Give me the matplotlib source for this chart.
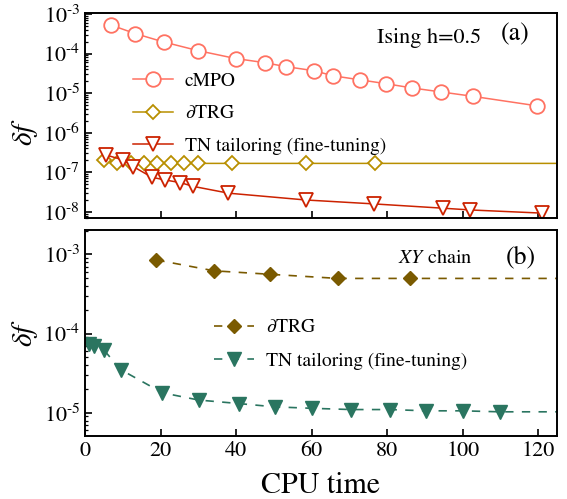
import matplotlib
matplotlib.use("Agg")
import matplotlib.pyplot as plt
from matplotlib.ticker import LogLocator, NullFormatter, FuncFormatter
import numpy as np

plt.rcParams['font.family'] = 'STIXGeneral'
plt.rcParams['mathtext.fontset'] = 'stix'

# (a) Ising h=0.5
cmpo_t = [6.8, 13.3, 20.8, 29.9, 39.9, 47.6, 53.1, 60.6, 65.8, 72.7, 79.8, 86.7, 94.4, 102.8, 119.6]
cmpo_df = [5.3e-4, 3.2e-4, 1.97e-4, 1.19e-4, 7.5e-5, 5.9e-5, 4.7e-5, 3.7e-5, 2.74e-5,
           2.18e-5, 1.73e-5, 1.35e-5, 1.07e-5, 8.3e-6, 4.8e-6]

trg_a_t = [5.0, 8.6, 12.1, 15.7, 19.2, 22.7, 26.3, 29.8, 39.0, 58.4, 76.7, 150]
trg_a_df = [2.0e-7, 1.75e-7, 1.7e-7, 1.68e-7, 1.68e-7, 1.68e-7, 1.68e-7, 1.68e-7,
            1.68e-7, 1.68e-7, 1.68e-7, 1.68e-7]

tn_a_t = [5.5, 10.0, 12.8, 17.7, 21.2, 25.2, 28.7, 38.0, 58.4, 76.5, 94.7, 101.9, 121.0]
tn_a_df = [2.75e-7, 2.06e-7, 1.39e-7, 7.5e-8, 6.4e-8, 5.5e-8, 4.4e-8, 2.97e-8,
           2.0e-8, 1.59e-8, 1.24e-8, 1.12e-8, 9.3e-9]

# (b) XY chain
trg_b_t = [18.9, 34.2, 49.1, 67.0, 86.0, 150]
trg_b_df = [8.5e-4, 6.2e-4, 5.6e-4, 4.97e-4, 4.97e-4, 4.97e-4]

tn_b_t = [1.1, 2.4, 5.0, 9.5, 20.5, 30.1, 40.7, 50.2, 60.2, 70.5, 80.7, 90.4, 100.0, 109.9, 150]
tn_b_df = [7.4e-5, 6.95e-5, 6.2e-5, 3.5e-5, 1.79e-5, 1.45e-5, 1.31e-5, 1.19e-5,
           1.14e-5, 1.1e-5, 1.1e-5, 1.06e-5, 1.06e-5, 1.03e-5, 1.03e-5]


def pow_fmt(v, pos):
    e = int(round(np.log10(v)))
    return r'10$^{\text{%d}}$' % e


fig = plt.figure(figsize=(5.67, 4.99), dpi=100)
W, H = 567, 499
ax1 = fig.add_axes([85 / W, 1 - 218 / H, 472 / W, 205.3 / H])
ax2 = fig.add_axes([85 / W, 1 - 436 / H, 472 / W, 206 / H])

ax1.plot(cmpo_t, cmpo_df, '-o', color='#ff7262', lw=1.1, ms=10.5, mfc='white',
         mew=1.3, label='cMPO')
ax1.plot(trg_a_t, trg_a_df, '-D', color='#b88f00', lw=1.1, ms=7, mfc='white',
         mew=1.3, label=r'$\partial$TRG')
ax1.plot(tn_a_t, tn_a_df, '-v', color='#cc2200', lw=1.1, ms=10, mfc='white',
         mew=1.3, label='TN tailoring (fine-tuning)')

ax2.plot(trg_b_t, trg_b_df, '--D', color='#7a5a00', lw=1.2, ms=7.5,
         dashes=(5, 5), label=r'$\partial$TRG')
ax2.plot(tn_b_t, tn_b_df, '--v', color='#2a7560', lw=1.2, ms=10.5,
         dashes=(5, 5), label='TN tailoring (fine-tuning)')

for ax in (ax1, ax2):
    ax.set_yscale('log')
    ax.set_xlim(0, 125)
    ax.set_xticks([0, 20, 40, 60, 80, 100, 120])
    ax.tick_params(which='both', direction='in', labelsize=16)
    ax.tick_params(which='major', length=5, width=1.2)
    ax.tick_params(which='minor', length=2.5, width=0.9)
    ax.yaxis.set_major_locator(LogLocator(base=10, numticks=20))
    ax.yaxis.set_minor_locator(LogLocator(base=10, subs=range(2, 10), numticks=20))
    ax.yaxis.set_minor_formatter(NullFormatter())
    ax.yaxis.set_major_formatter(FuncFormatter(pow_fmt))
    for s in ax.spines.values():
        s.set_linewidth(1.4)
    ax.set_ylabel(r'$\delta f$', fontsize=21)

ax1.yaxis.set_label_coords(-0.095, 0.42)
ax2.yaxis.set_label_coords(-0.095, 0.5)
ax1.set_ylim(7e-9, 1.08e-3)
ax2.set_ylim(5.1e-6, 2.03e-3)
ax1.tick_params(axis='x', labelbottom=False)
ax2.set_xlabel('CPU time', fontsize=21.5, labelpad=8)

ax1.text(0.619, 0.876, 'Ising h=0.5', transform=ax1.transAxes, fontsize=16,
         ha='left', va='center')
ax1.text(0.911, 0.895, '(a)', transform=ax1.transAxes, fontsize=18.5,
         ha='center', va='center')
ax2.text(0.663, 0.865, r'$XY$ chain', transform=ax2.transAxes, fontsize=14.5,
         ha='left', va='center')
ax2.text(0.924, 0.865, '(b)', transform=ax2.transAxes, fontsize=18.5,
         ha='center', va='center')

ax1.legend(loc='upper left', bbox_to_anchor=(0.073, 0.775), frameon=False,
           fontsize=14, handlelength=2.05, handletextpad=0.6, labelspacing=0.75,
           borderpad=0.2)
ax2.legend(loc='upper left', bbox_to_anchor=(0.245, 0.635), frameon=False,
           fontsize=14, handlelength=2.05, handletextpad=0.6, labelspacing=0.8,
           borderpad=0.2)

fig.savefig('out.png', dpi=100)
